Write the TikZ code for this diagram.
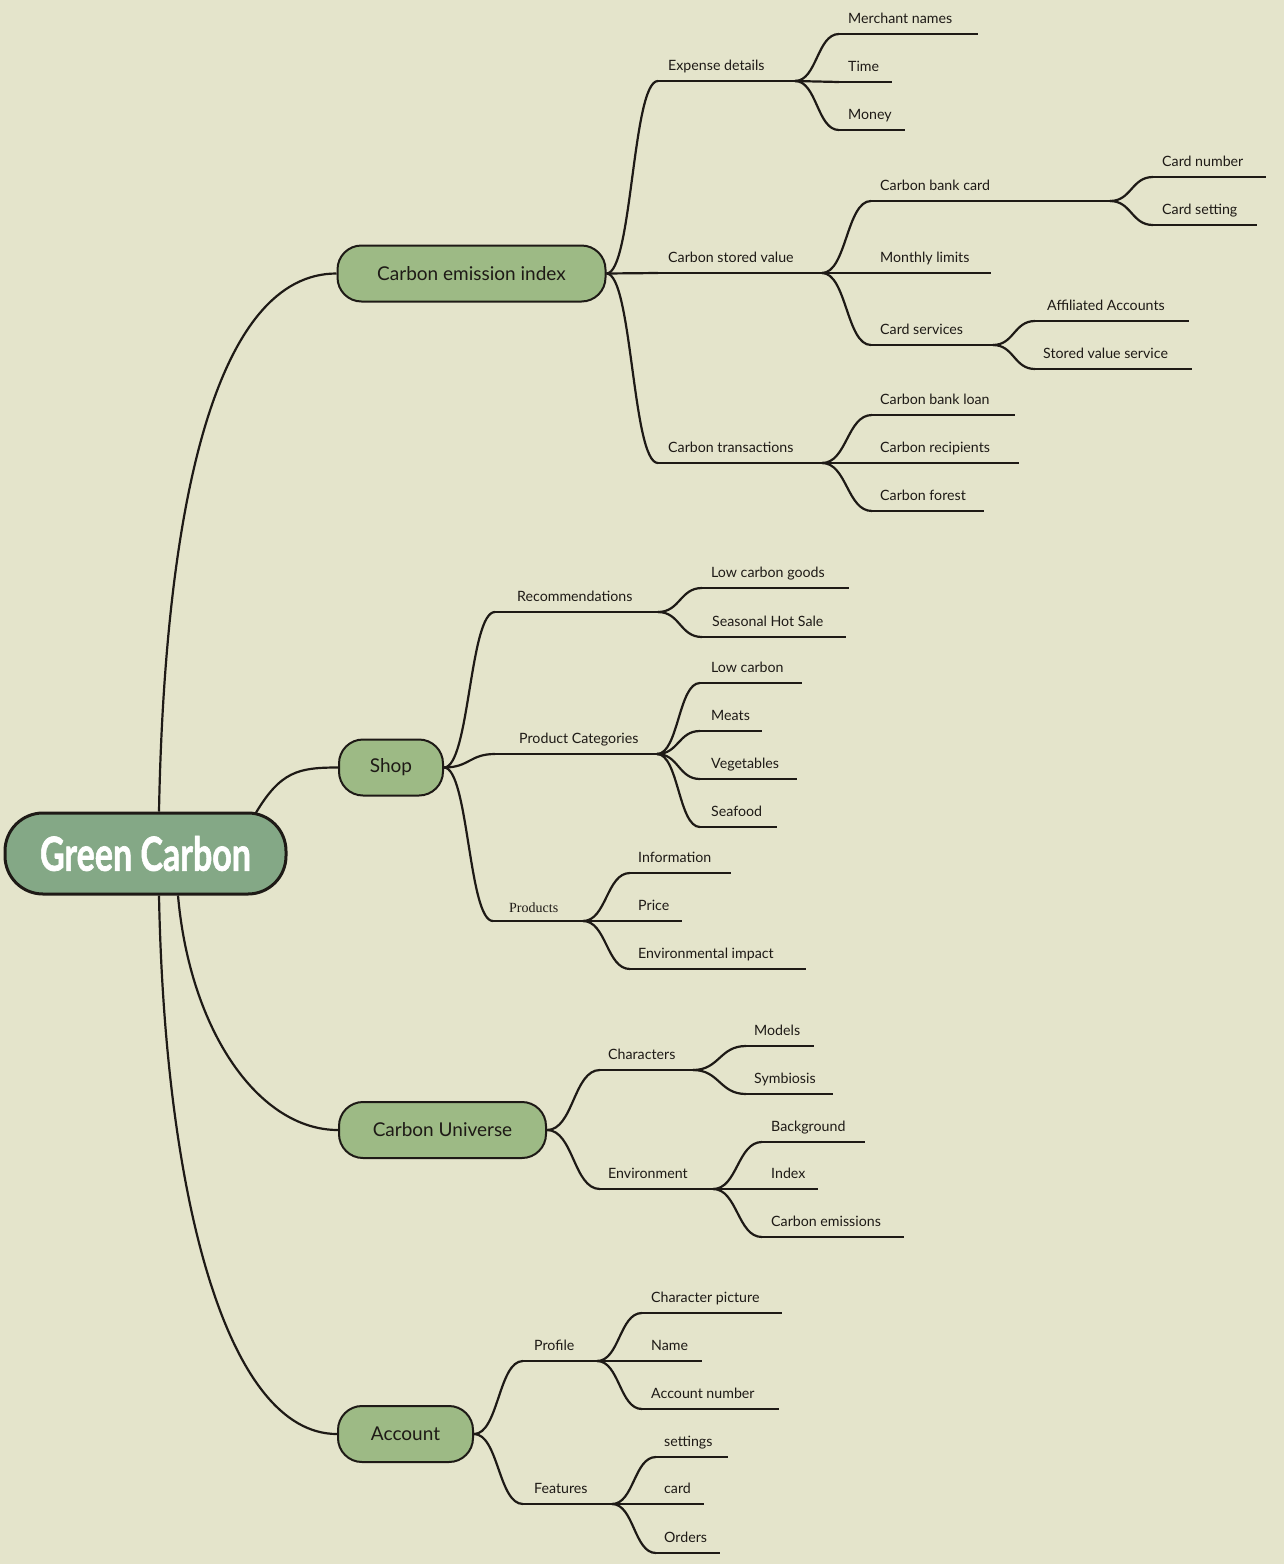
\documentclass[tikz,border=0pt]{standalone}
\usepackage{fontspec}
\usepackage{graphicx}
\setmainfont{Lato}
\newfontfamily\serifprod{Liberation Serif}
\newfontfamily\rootfont[FakeBold=1.5]{Lato}
\usetikzlibrary{calc}
\definecolor{bgcol}{HTML}{E4E4CB}
\definecolor{mainfill}{HTML}{9DBA85}
\definecolor{rootfill}{HTML}{84A886}
\definecolor{ink}{HTML}{1E1A16}
\newcommand\mmtopic[7][]{%
  \coordinate (#2-s) at (#3,#5);
  \coordinate (#2-e) at (#4,#5);
  \node[lbl,anchor=base west,#1] (#2) at (#6,#5-11) {#7};
  \draw[link] (#2-s) -- (#2-e);
}
\newcommand\mmconn[2]{%
  \draw[link] let \p1=(#1), \p2=(#2) in
    (#1) .. controls ({0.5*\x1+0.5*\x2},\y1) and ({0.5*\x1+0.5*\x2},\y2) .. (#2);
}
\begin{document}
\begin{tikzpicture}[x=1pt,y=-1pt,
  link/.style={draw=ink,line width=2.2pt},
  lbl/.style={inner sep=0pt,font=\fontsize{14.2}{17}\selectfont,text=ink},
  mainnode/.style={draw=ink,line width=2pt,fill=mainfill,rounded corners=24pt,
    minimum height=56pt,inner sep=0pt,font=\fontsize{19}{22}\selectfont,text=ink},
  rootnode/.style={draw=ink,line width=3pt,fill=rootfill,rounded corners=38pt,
    minimum width=281pt,minimum height=81pt,inner sep=0pt,
    font=\rootfont\fontsize{46}{50}\selectfont\bfseries,text=white},
]
\fill[bgcol] (0,0) rectangle (1284,1564);
\useasboundingbox (0,0) rectangle (1284,1564);

% root and main nodes
\node[rootnode] (root) at (145.5,853.5) {\scalebox{0.74}[1.02]{Green Carbon}};
\node[mainnode,minimum width=268pt] (cei) at (471.5,273.5) {Carbon emission index};
\node[mainnode,minimum width=104pt] (shop) at (391,767.5) {Shop};
\node[mainnode,minimum width=207pt] (cu) at (442.5,1130) {Carbon Universe};
\node[mainnode,minimum width=135pt] (acc) at (405.5,1434) {Account};

\coordinate (r1) at ($(root.north)+(13.5,0)$);
\coordinate (r2) at ($(root.north)+(110,2)$);
\coordinate (r3) at ($(root.south)+(32.5,0)$);
\coordinate (r4) at ($(root.south)+(13.5,0)$);

\draw[link] (r1) .. controls +(6,-313) and +(-119,0) .. (cei.west);
\draw[link] (r2) .. controls +(25,-42) and +(-40,0) .. (shop.west);
\draw[link] (r3) .. controls +(12,136) and +(-79,0) .. (cu.west);
\draw[link] (r4) .. controls +(6,306) and +(-109,0) .. (acc.west);

% Carbon emission index
\mmtopic{exp}{658}{795}{81}{668}{Expense details}
\mmtopic{csv}{658}{822}{273}{668}{Carbon stored value}
\mmtopic{ctr}{658}{822}{463}{668}{Carbon transactions}
\mmconn{cei.east}{exp-s}
\mmconn{cei.east}{csv-s}
\mmconn{cei.east}{ctr-s}

\mmtopic{mer}{839}{978}{34}{848}{Merchant names}
\mmtopic{time}{839}{892}{82}{848}{Time}
\mmtopic{mon}{839}{905}{130}{848}{Money}
\mmconn{exp-e}{mer-s}
\mmconn{exp-e}{time-s}
\mmconn{exp-e}{mon-s}

\mmtopic{cbc}{871}{1110}{201}{880}{Carbon bank card}
\mmtopic{mli}{871}{991}{273}{880}{Monthly limits}
\mmtopic{cse}{871}{993}{345}{880}{Card services}
\mmconn{csv-e}{cbc-s}
\mmconn{csv-e}{mli-s}
\mmconn{csv-e}{cse-s}

\mmtopic{cnum}{1153}{1266}{177}{1162}{Card number}
\mmtopic{cset}{1153}{1257}{225}{1162}{Card setting}
\mmconn{cbc-e}{cnum-s}
\mmconn{cbc-e}{cset-s}

\mmtopic{aff}{1035}{1189}{321}{1047}{Affiliated Accounts}
\mmtopic{svs}{1035}{1192}{369}{1043}{Stored value service}
\mmconn{cse-e}{aff-s}
\mmconn{cse-e}{svs-s}

\mmtopic{cbl}{872}{1015}{415}{880}{Carbon bank loan}
\mmtopic{crec}{872}{1019}{463}{880}{Carbon recipients}
\mmtopic{cfor}{872}{984}{511}{880}{Carbon forest}
\mmconn{ctr-e}{cbl-s}
\mmconn{ctr-e}{crec-s}
\mmconn{ctr-e}{cfor-s}

% Shop
\mmtopic{rec}{495}{658}{612}{517}{Recommendations}
\mmtopic{pcat}{495}{657}{754}{519}{Product Categories}
\mmtopic[font=\serifprod\fontsize{14}{16}\selectfont,yshift=-2pt]{prod}{493}{583}{921}{509}{Products}
\mmconn{shop.east}{rec-s}
\mmconn{shop.east}{pcat-s}
\mmconn{shop.east}{prod-s}

\mmtopic{lcg}{702}{849}{588}{711}{Low carbon goods}
\mmtopic{shs}{702}{846}{637}{712}{Seasonal Hot Sale}
\mmconn{rec-e}{lcg-s}
\mmconn{rec-e}{shs-s}

\mmtopic{lc}{700}{802}{683}{711}{Low carbon}
\mmtopic{meat}{700}{762}{731}{711}{Meats}
\mmtopic{veg}{700}{797}{779}{711}{Vegetables}
\mmtopic{sea}{700}{777}{827}{711}{Seafood}
\mmconn{pcat-e}{lc-s}
\mmconn{pcat-e}{meat-s}
\mmconn{pcat-e}{veg-s}
\mmconn{pcat-e}{sea-s}

\mmtopic{info}{630}{731}{873}{638}{Information}
\mmtopic{price}{630}{682}{921}{638}{Price}
\mmtopic{envi}{630}{806}{969}{638}{Environmental impact}
\mmconn{prod-e}{info-s}
\mmconn{prod-e}{price-s}
\mmconn{prod-e}{envi-s}

% Carbon Universe
\mmtopic{char}{600}{693}{1070}{608}{Characters}
\mmtopic{envt}{600}{713}{1189}{608}{Environment}
\mmconn{cu.east}{char-s}
\mmconn{cu.east}{envt-s}

\mmtopic{mod}{746}{814}{1046}{754}{Models}
\mmtopic{sym}{746}{833}{1094}{754}{Symbiosis}
\mmconn{char-e}{mod-s}
\mmconn{char-e}{sym-s}

\mmtopic{bgd}{762}{865}{1142}{771}{Background}
\mmtopic{idx}{762}{818}{1189}{771}{Index}
\mmtopic{cem}{762}{904}{1237}{771}{Carbon emissions}
\mmconn{envt-e}{bgd-s}
\mmconn{envt-e}{idx-s}
\mmconn{envt-e}{cem-s}

% Account
\mmtopic{prof}{523}{597}{1361}{534}{Profile}
\mmtopic{feat}{523}{612}{1504}{534}{Features}
\mmconn{acc.east}{prof-s}
\mmconn{acc.east}{feat-s}

\mmtopic{cpic}{642}{782}{1313}{651}{Character picture}
\mmtopic{nam}{642}{702}{1361}{651}{Name}
\mmtopic{accn}{642}{779}{1409}{651}{Account number}
\mmconn{prof-e}{cpic-s}
\mmconn{prof-e}{nam-s}
\mmconn{prof-e}{accn-s}

\mmtopic{sett}{656}{728}{1457}{664}{settings}
\mmtopic{card}{656}{704}{1504}{664}{card}
\mmtopic{ord}{656}{720}{1553}{664}{Orders}
\mmconn{feat-e}{sett-s}
\mmconn{feat-e}{card-s}
\mmconn{feat-e}{ord-s}
\end{tikzpicture}
\end{document}
